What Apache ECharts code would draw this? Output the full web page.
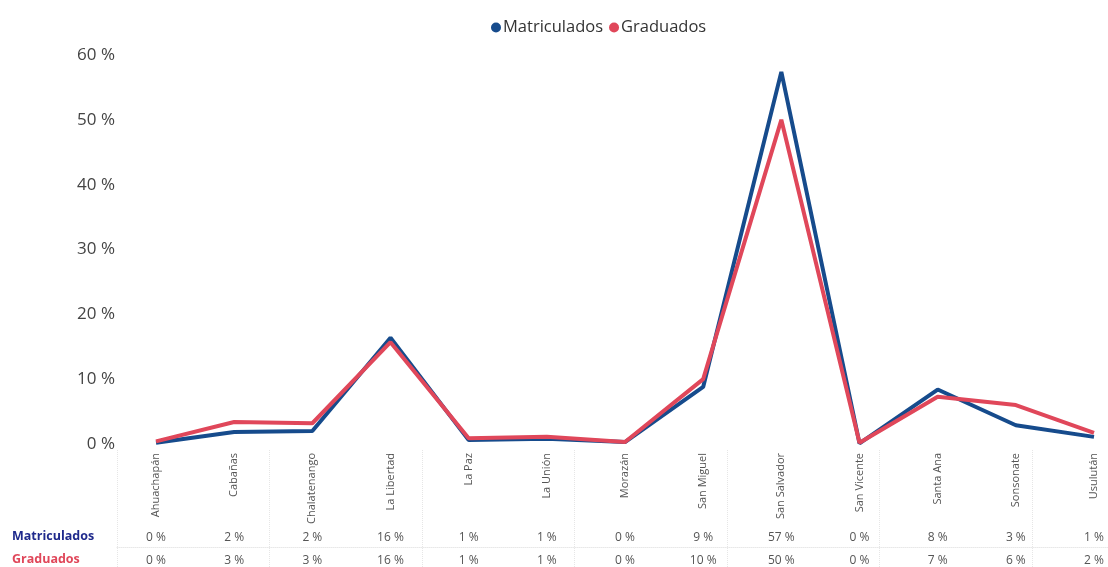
<!DOCTYPE html>
<html>
<head>
<meta charset="utf-8">
<script src="https://cdn.jsdelivr.net/npm/echarts@6/dist/echarts.min.js"></script>
<style>
html,body{margin:0;padding:0;background:#fff;}
#chart{width:1108px;height:567px;}
</style>
</head>
<body>
<div id="chart"></div>
<script>
const categories = ['Ahuachapán','Cabañas','Chalatenango','La Libertad','La Paz','La Unión','Morazán','San Miguel','San Salvador','San Vicente','Santa Ana','Sonsonate','Usulután'];
const matriculados = [0.2, 1.85, 2.0, 16.4, 0.6, 0.8, 0.3, 8.8, 57.4, 0.1, 8.4, 2.9, 1.1];
const graduados = [0.4, 3.4, 3.2, 15.7, 0.9, 1.1, 0.3, 10.0, 50.0, 0.2, 7.3, 6.0, 1.7];
const yTicks = { min: 0, max: 60, interval: 10 };
const seriesNames = ['Matriculados', 'Graduados'];

const BLUE = '#164b8c';
const RED = '#e0475a';
const NAVY = '#1f2a8c';
const FONT = '"Open Sans", "Noto Sans", sans-serif';

const chart = echarts.init(document.getElementById('chart'));
const fmtRow = arr => (v, i) => Math.round(arr[i]) + ' %';

chart.setOption({
  animation: false,
  textStyle: { fontFamily: FONT },
  legend: {
    top: 14, left: 486,
    itemWidth: 10, itemHeight: 10, itemGap: 6,
    icon: 'circle',
    textStyle: { fontSize: 16.5, color: '#333', fontFamily: FONT, padding: [0,0,0,-3] },
    data: seriesNames
  },
  grid: [
    { left: 156, right: 14, top: 55, bottom: 123 },
    { left: 116.9, right: -25.1, top: 450, bottom: 0 }
  ],
  xAxis: [
    {
      gridIndex: 0, type: 'category', data: categories, boundaryGap: false,
      axisLine: { show: false }, axisTick: { show: false },
      axisLabel: { rotate: 90, margin: 9, fontSize: 11, color: '#555', fontFamily: FONT, interval: 0 },
      splitLine: { show: false }
    },
    {
      gridIndex: 0, type: 'category', data: categories, boundaryGap: false, position: 'bottom', offset: 88,
      axisLine: { show: false }, axisTick: { show: false },
      axisLabel: { margin: 0, fontSize: 12, color: '#555', fontFamily: FONT, interval: 0, formatter: fmtRow(matriculados) }
    },
    {
      gridIndex: 0, type: 'category', data: categories, boundaryGap: false, position: 'bottom', offset: 111,
      axisLine: { show: false }, axisTick: { show: false },
      axisLabel: { margin: 0, fontSize: 12, color: '#555', fontFamily: FONT, interval: 0, formatter: fmtRow(graduados) }
    },
    {
      gridIndex: 1, type: 'category', data: categories, boundaryGap: true,
      axisLine: { show: true, lineStyle: { color: '#e8e8e8', type: 'dotted', width: 1 } },
      offset: -20,
      axisTick: { show: false }, axisLabel: { show: false },
      splitLine: { show: true, lineStyle: { color: '#e6e6e6', type: 'dotted', width: 1 } }
    }
  ],
  yAxis: [
    {
      gridIndex: 0, type: 'value', min: yTicks.min, max: yTicks.max, interval: yTicks.interval,
      axisLine: { show: false }, axisTick: { show: false },
      splitLine: { show: false },
      axisLabel: { formatter: '{value} %', fontSize: 17, color: '#444', margin: 41, fontFamily: FONT }
    },
    {
      gridIndex: 1, type: 'value', min: 0, max: 1, show: false
    }
  ],
  graphic: [
    { type: 'text', left: 12, top: 530, style: { text: 'Matriculados', font: 'bold 12.5px ' + FONT, fill: NAVY } },
    { type: 'text', left: 12, top: 553, style: { text: 'Graduados', font: 'bold 12.5px ' + FONT, fill: RED } }
  ],
  series: [
    {
      name: seriesNames[0], type: 'line', xAxisIndex: 0, yAxisIndex: 0,
      data: matriculados, symbol: 'none', smooth: false,
      lineStyle: { width: 4, color: BLUE }, itemStyle: { color: BLUE }
    },
    {
      name: seriesNames[1], type: 'line', xAxisIndex: 0, yAxisIndex: 0,
      data: graduados, symbol: 'none', smooth: false,
      lineStyle: { width: 4, color: RED }, itemStyle: { color: RED }
    }
  ]
});
</script>
</body>
</html>
